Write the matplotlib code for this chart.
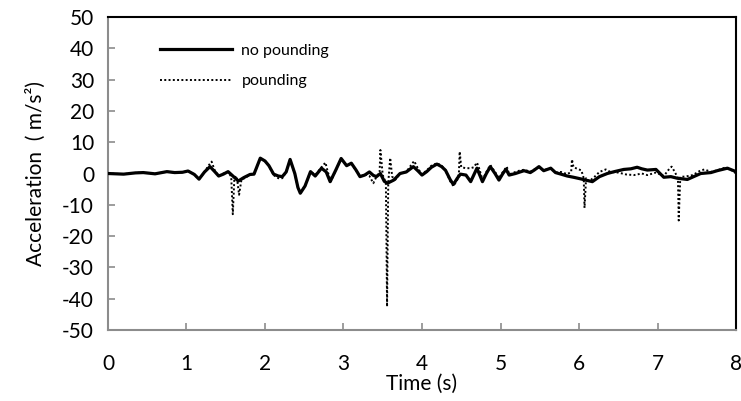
import matplotlib
matplotlib.use("Agg")
import matplotlib.pyplot as plt

# Acceleration time histories
t_no_pounding = [
    0.00, 0.20, 0.35, 0.45, 0.60, 0.75, 0.85, 0.95, 1.02, 1.10, 1.16, 1.23,
    1.30, 1.36, 1.41, 1.47, 1.53, 1.60, 1.66, 1.73, 1.81, 1.86, 1.94, 2.00,
    2.05, 2.11, 2.17, 2.22, 2.27, 2.32, 2.38, 2.42, 2.45, 2.51, 2.58, 2.64,
    2.72, 2.78, 2.83, 2.90, 2.97, 3.04, 3.10, 3.16, 3.21, 3.27, 3.33, 3.38,
    3.42, 3.47, 3.52, 3.56, 3.64, 3.72, 3.80, 3.89, 3.95, 4.00, 4.06, 4.12,
    4.19, 4.25, 4.30, 4.36, 4.40, 4.45, 4.49, 4.56, 4.62, 4.70, 4.77, 4.82,
    4.87, 4.93, 4.98, 5.03, 5.07, 5.11, 5.19, 5.25, 5.30, 5.38, 5.43, 5.49,
    5.55, 5.64, 5.70, 5.77, 5.85, 5.93, 6.02, 6.10, 6.17, 6.26, 6.36, 6.45,
    6.57, 6.66, 6.74, 6.80, 6.87, 6.98, 7.08, 7.17, 7.25, 7.38, 7.46, 7.55,
    7.68, 7.76, 7.89, 8.00,
]
a_no_pounding = [
    0.0, -0.2, 0.2, 0.3, -0.1, 0.6, 0.3, 0.4, 0.8, -0.3, -1.8, 0.5,
    2.2, 0.6, -0.8, -0.2, 0.6, -1.0, -2.4, -1.3, -0.3, -0.2, 4.9, 4.0,
    2.5, -0.2, -0.8, -1.0, 0.5, 4.5, 0.0, -4.5, -6.3, -4.0, 0.6, -0.8,
    1.7, 0.5, -2.6, 1.0, 4.8, 2.5, 3.3, 1.1, -1.0, -0.5, 0.5, -0.6,
    -1.0, 0.0, -2.5, -3.1, -2.1, 0.0, 0.5, 2.2, 0.8, -0.5, 0.6, 2.0,
    3.0, 2.2, 1.0, -2.0, -3.5, -1.5, -0.2, -0.5, -2.6, 1.7, -2.6, 0.0,
    2.2, 0.0, -2.1, 0.0, 1.4, -0.5, 0.0, 0.5, 0.9, 0.3, 1.1, 2.2,
    0.9, 1.7, 0.3, -0.2, -0.8, -1.2, -1.7, -2.2, -2.6, -1.0, 0.0, 0.6,
    1.3, 1.5, 2.0, 1.5, 1.1, 1.3, -1.2, -1.0, -1.5, -1.9, -1.0, 0.0,
    0.3, 0.9, 1.7, 0.6,
]

t_pounding = [
    0.00, 0.20, 0.35, 0.45, 0.60, 0.75, 0.85, 0.95, 1.02, 1.10, 1.16, 1.23,
    1.28, 1.32, 1.36, 1.41, 1.47, 1.53, 1.57, 1.59, 1.61, 1.64, 1.67, 1.70,
    1.76, 1.81, 1.86, 1.94, 2.00, 2.05, 2.11, 2.17, 2.22, 2.27, 2.32, 2.38,
    2.42, 2.45, 2.51, 2.58, 2.64, 2.72, 2.77, 2.80, 2.84, 2.90, 2.97, 3.04,
    3.10, 3.16, 3.21, 3.27, 3.33, 3.38, 3.42, 3.46, 3.47, 3.50, 3.54, 3.555,
    3.57, 3.595, 3.62, 3.66, 3.72, 3.80, 3.87, 3.90, 3.95, 4.00, 4.06, 4.12,
    4.19, 4.25, 4.30, 4.36, 4.40, 4.45, 4.47, 4.48, 4.50, 4.56, 4.62, 4.66,
    4.70, 4.73, 4.77, 4.82, 4.87, 4.93, 4.98, 5.03, 5.08, 5.11, 5.19, 5.25,
    5.30, 5.38, 5.43, 5.49, 5.55, 5.64, 5.70, 5.77, 5.85, 5.90, 5.91, 5.93,
    5.98, 6.03, 6.06, 6.07, 6.09, 6.13, 6.20, 6.26, 6.34, 6.40, 6.50, 6.60,
    6.70, 6.80, 6.87, 6.98, 7.08, 7.15, 7.18, 7.22, 7.26, 7.27, 7.29, 7.35,
    7.45, 7.55, 7.60, 7.68, 7.76, 7.85, 7.92, 8.00,
]
a_pounding = [
    0.0, -0.2, 0.2, 0.3, -0.1, 0.6, 0.3, 0.4, 0.8, -0.3, -1.8, 0.5,
    2.5, 3.8, 1.0, -0.8, 0.0, 0.5, -1.0, -13.0, -1.5, -0.8, -6.8, -2.0,
    -1.2, -0.3, -0.2, 4.8, 4.0, 2.5, -0.5, -1.5, -1.5, 0.5, 4.3, 0.0,
    -4.5, -6.2, -4.0, 0.6, -0.5, 2.0, 3.5, 0.5, -2.5, 1.0, 4.6, 2.6,
    3.2, 1.0, -1.0, -0.3, -0.8, -3.1, -1.0, 0.5, 7.5, -0.5, -3.0, -42.5,
    -3.0, 5.0, -1.0, -2.0, 0.0, 0.5, 3.0, 4.0, 1.5, -0.3, 1.0, 2.5,
    3.3, 2.5, 1.0, -2.5, -4.0, -2.0, 0.0, 7.0, 2.0, 1.7, 1.7, 2.0,
    3.5, 1.5, -2.0, 0.5, 2.7, 0.5, -1.5, 0.5, 2.2, -0.3, 0.5, 1.0,
    1.2, 0.6, 1.3, 2.0, 1.0, 1.8, 0.3, 0.5, -0.2, 0.5, 4.5, 2.0,
    1.5, 1.0, -1.5, -11.0, -1.5, -2.5, -1.0, 0.5, 1.3, 0.5, 0.3, -0.3,
    -0.5, 0.0, -0.5, 0.3, -0.8, 1.5, 2.2, 0.5, -1.5, -15.0, -1.0, -1.0,
    -0.5, 1.0, 1.3, 0.5, 1.0, 1.8, 1.5, 0.0,
]

x_ticks = [0, 1, 2, 3, 4, 5, 6, 7, 8]
y_ticks = [-50, -40, -30, -20, -10, 0, 10, 20, 30, 40, 50]

plt.rcParams["font.family"] = ["Lato", "DejaVu Sans"]
plt.rcParams["axes.unicode_minus"] = False

fig = plt.figure(figsize=(7.41, 4.01), dpi=100)
ax = fig.add_axes([0.1457, 0.177, 0.8476, 0.7806])

ax.plot(t_no_pounding, a_no_pounding, color="black", linewidth=2.3,
        solid_joinstyle="round", label="no pounding", zorder=3)
ax.plot(t_pounding, a_pounding, color="black", linewidth=1.4,
        linestyle=(0, (1, 1.2)), label="pounding", zorder=2)

ax.set_xlim(0, 8)
ax.set_ylim(-50, 50)
ax.set_xticks(x_ticks)
ax.set_yticks(y_ticks)
ax.tick_params(axis="both", direction="in", length=5, width=1.2,
               color="#8c8c8c", labelsize=15)
ax.tick_params(axis="y", pad=10)
ax.tick_params(axis="x", pad=17)

for side in ("left", "bottom"):
    ax.spines[side].set_color("#8c8c8c")
    ax.spines[side].set_linewidth(1.5)
for side in ("top", "right"):
    ax.spines[side].set_color("black")
    ax.spines[side].set_linewidth(1.5)

ax.set_xlabel("Time (s)", fontsize=15, labelpad=0)
ax.set_ylabel("Acceleration  ( m/s²)", fontsize=15, labelpad=12)

ax.legend(loc="upper left", bbox_to_anchor=(0.06, 0.96), frameon=False,
          fontsize=11.5, handlelength=4.5, handletextpad=0.6, labelspacing=1.0)

fig.savefig("out.png", dpi=100)
